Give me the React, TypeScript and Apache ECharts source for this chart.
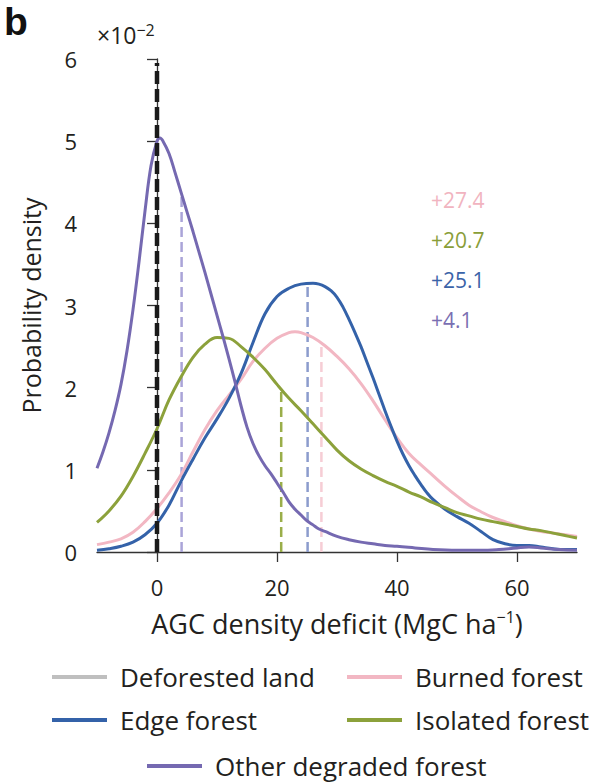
import { useEffect, useRef } from "react";
import * as echarts from "echarts";

// series names and colours (legend order)
const seriesNames = ["Deforested land", "Burned forest", "Edge forest", "Isolated forest", "Other degraded forest"];
const seriesColors = ["#bfbfbf", "#f2b7c3", "#3462a9", "#8ca13b", "#7569b1"];

// density curves, y in units of 1e-2
const burnedX = [-10, -8, -6, -4, -2, 0, 2, 4, 6, 8, 10, 12, 14, 16, 18, 20, 22, 23, 24, 26, 28, 30, 32, 34, 36, 38, 40, 42, 44, 46, 48, 50, 52, 54, 56, 58, 60, 62, 64, 66, 68, 70];
const burnedY = [0.09, 0.12, 0.16, 0.24, 0.37, 0.53, 0.72, 0.94, 1.22, 1.49, 1.72, 1.91, 2.1, 2.32, 2.48, 2.6, 2.67, 2.68, 2.67, 2.61, 2.51, 2.38, 2.23, 2.05, 1.84, 1.61, 1.39, 1.2, 1.06, 0.93, 0.8, 0.68, 0.57, 0.49, 0.42, 0.37, 0.32, 0.28, 0.25, 0.23, 0.21, 0.19];

const edgeX = [-10, -8, -6, -4, -2, 0, 2, 4, 6, 8, 10, 12, 14, 16, 18, 20, 22, 24, 26, 27, 28, 29, 30, 31, 32, 33, 34, 35, 36, 37, 38, 39, 40, 41, 42, 43, 44, 45, 46, 48, 50, 52, 54, 56, 58, 60, 62, 64, 66, 68, 70];
const edgeY = [0.02, 0.04, 0.07, 0.12, 0.21, 0.35, 0.57, 0.86, 1.13, 1.39, 1.62, 1.87, 2.17, 2.55, 2.9, 3.11, 3.21, 3.26, 3.27, 3.26, 3.23, 3.18, 3.1, 2.98, 2.83, 2.67, 2.5, 2.31, 2.12, 1.92, 1.72, 1.53, 1.35, 1.19, 1.05, 0.93, 0.82, 0.72, 0.64, 0.52, 0.43, 0.35, 0.25, 0.15, 0.1, 0.08, 0.08, 0.06, 0.04, 0.03, 0.03];

const isolatedX = [-10, -8, -6, -4, -2, 0, 2, 4, 6, 8, 10, 12, 14, 16, 18, 20, 22, 24, 26, 28, 30, 32, 34, 36, 38, 40, 42, 44, 46, 48, 50, 52, 54, 56, 58, 60, 62, 64, 66, 68, 70];
const isolatedY = [0.36, 0.5, 0.68, 0.92, 1.2, 1.5, 1.85, 2.13, 2.37, 2.53, 2.61, 2.6, 2.5, 2.37, 2.22, 2.04, 1.87, 1.72, 1.56, 1.4, 1.24, 1.11, 1.01, 0.93, 0.86, 0.8, 0.73, 0.67, 0.6, 0.54, 0.48, 0.44, 0.4, 0.37, 0.34, 0.31, 0.28, 0.26, 0.23, 0.2, 0.17];

const otherX = [-10, -9, -8, -7, -6, -5, -4, -3, -2, -1, 0, 0.5, 1, 2, 3, 4, 5, 6, 7, 8, 9, 10, 11, 12, 13, 14, 15, 16, 17, 18, 19, 20, 21, 22, 23, 24, 25, 26, 27, 28, 30, 32, 34, 36, 38, 40, 43, 46, 50, 54, 57, 60, 62, 64, 67, 70];
const otherY = [1.02, 1.22, 1.45, 1.72, 2.04, 2.45, 2.95, 3.53, 4.15, 4.7, 5.0, 5.04, 5.0, 4.85, 4.62, 4.38, 4.14, 3.9, 3.65, 3.4, 3.14, 2.88, 2.62, 2.35, 2.07, 1.78, 1.52, 1.32, 1.17, 1.05, 0.95, 0.84, 0.73, 0.61, 0.52, 0.45, 0.38, 0.33, 0.28, 0.25, 0.19, 0.15, 0.12, 0.1, 0.08, 0.07, 0.05, 0.03, 0.02, 0.02, 0.03, 0.05, 0.06, 0.05, 0.03, 0.02];

// mean shifts (dashed verticals) and labels
const meanNames = ["Burned forest", "Isolated forest", "Edge forest", "Other degraded forest"];
const meanShift = [27.4, 20.7, 25.1, 4.1];
const meanTop = [2.52, 1.97, 3.27, 4.35];
const meanLineColors = ["#f6cdd5", "#9aae4a", "#8c9ccd", "#aaa4d8"];
const meanTextColors = ["#f1b4c0", "#8a9e38", "#3b63a8", "#7a6fb2"];
const deforestedMean = 0;
const deforestedTop = 5.95;

const xTicks = [0, 20, 40, 60];

const FONT = "Open Sans";
const INK = "#231f20";

const pairs = (xs: number[], ys: number[]) => xs.map((x, i) => [x, ys[i]]);

export default function App() {
    const chartRef = useRef<HTMLDivElement | null>(null);

    useEffect(() => {
        document.body.style.margin = "0";
        if (!chartRef.current) return;
        const chart = echarts.init(chartRef.current, undefined, { renderer: "svg" });

        const curveData: Record<string, number[][]> = {
            "Deforested land": [],
            "Burned forest": pairs(burnedX, burnedY),
            "Edge forest": pairs(edgeX, edgeY),
            "Isolated forest": pairs(isolatedX, isolatedY),
            "Other degraded forest": pairs(otherX, otherY),
        };

        const curves = seriesNames.map((name, i) => ({
            name,
            type: "line",
            data: curveData[name],
            smooth: 0.4,
            showSymbol: false,
            silent: true,
            color: seriesColors[i],
            lineStyle: { width: 3, color: seriesColors[i] },
            z: 3,
        }));

        const meanLines = meanNames.map((name, i) => ({
            name: name + " mean",
            type: "line",
            data: [
                [meanShift[i], 0],
                [meanShift[i], meanTop[i]],
            ],
            showSymbol: false,
            silent: true,
            lineStyle: { width: 2.5, color: meanLineColors[i], type: [10, 5] },
            z: 2,
        }));

        const legendCommon = {
            icon: "rect",
            itemWidth: 55,
            itemHeight: 4,
            padding: 0,
            selectedMode: false,
            textStyle: { fontFamily: FONT, fontSize: 26, color: INK, lineHeight: 26, padding: [0, 0, 0, 8] },
        };

        const option: any = {
            animation: false,
            grid: { left: 97, right: 20, top: 59, bottom: 232, outerBoundsMode: "none" },
            xAxis: {
                type: "value",
                min: -10,
                max: 70,
                name: "AGC density deficit (MgC ha{sup|−1})",
                nameLocation: "middle",
                nameGap: 57,
                nameTextStyle: {
                    fontFamily: FONT,
                    fontSize: 27,
                    color: INK,
                    rich: { sup: { fontFamily: FONT, fontSize: 16, color: INK, verticalAlign: "top", padding: [0, 0, 12, 0] } },
                },
                axisLine: { lineStyle: { color: "#333", width: 1.3 } },
                axisTick: { customValues: xTicks, length: 10, lineStyle: { color: "#333", width: 1.3 } },
                axisLabel: { customValues: xTicks, margin: 24, fontFamily: FONT, fontSize: 22, color: INK },
                splitLine: { show: false },
            },
            yAxis: {
                type: "value",
                min: 0,
                max: 6,
                interval: 1,
                name: "Probability density",
                nameLocation: "middle",
                nameGap: 54,
                nameTextStyle: { fontFamily: FONT, fontSize: 25, color: INK },
                axisLine: { show: true, lineStyle: { color: "#333", width: 1.3 } },
                axisTick: { show: true, length: 10, lineStyle: { color: "#333", width: 1.3 } },
                axisLabel: { margin: 20, fontFamily: FONT, fontSize: 22, color: INK },
                splitLine: { show: false },
            },
            legend: [
                { ...legendCommon, data: ["Deforested land"], left: 52, top: 664 },
                { ...legendCommon, data: ["Burned forest"], left: 347, top: 664 },
                { ...legendCommon, data: ["Edge forest"], left: 52, top: 707 },
                { ...legendCommon, data: ["Isolated forest"], left: 347, top: 707 },
                { ...legendCommon, data: ["Other degraded forest"], left: 147, top: 753 },
            ],
            graphic: [
                {
                    type: "text",
                    left: 4,
                    top: 2,
                    style: { text: "b", font: "bold 39px 'Liberation Sans'", fill: "#111" },
                },
                {
                    type: "text",
                    left: 97,
                    top: 22,
                    style: {
                        text: "×10{sup|−2}",
                        fontFamily: FONT,
                        fontSize: 23,
                        fill: INK,
                        rich: { sup: { fontFamily: FONT, fontSize: 16, fill: INK, verticalAlign: "top", padding: [0, 0, 10, 0] } },
                    },
                },
                ...meanShift.map((v, i) => ({
                    type: "text",
                    left: 431,
                    top: 189 + i * 40,
                    style: { text: "+" + v, fontFamily: FONT, fontSize: 21, fill: meanTextColors[i] },
                })),
            ],
            series: [
                ...meanLines,
                ...curves,
                {
                    name: "Deforested land mean",
                    type: "line",
                    data: [
                        [deforestedMean, 0],
                        [deforestedMean, deforestedTop],
                    ],
                    showSymbol: false,
                    silent: true,
                    lineStyle: { width: 4.5, color: "#1a1a1a", type: [13, 5] },
                    z: 4,
                },
            ],
        };

        chart.setOption(option);
        return () => {
            chart.dispose();
        };
    }, []);

    return <div ref={chartRef} style={{ width: "597px", height: "784px" }} />;
}
